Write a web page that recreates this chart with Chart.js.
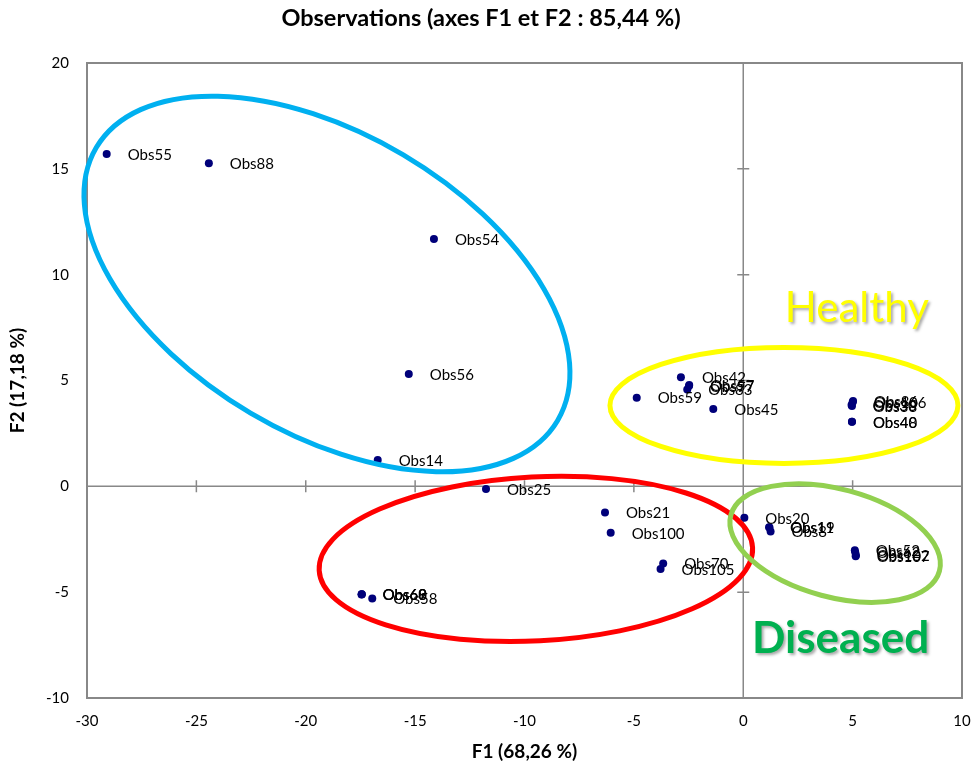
<!DOCTYPE html>
<html>
<head>
<meta charset="utf-8">
<script src="https://cdn.jsdelivr.net/npm/chart.js@4.4.1/dist/chart.umd.min.js"></script>
<style>
  html, body { margin: 0; padding: 0; background: #fff; }
  canvas { display: block; }
</style>
</head>
<body>
<canvas id="c" width="977" height="765"></canvas>
<script>
// ---- data ----
const chartTitle = 'Observations (axes F1 et F2 : 85,44 %)';
const xTitle = 'F1 (68,26 %)';
const yTitle = 'F2 (17,18 %)';
const xTickRange = [-30, 10, 5];
const yTickRange = [-10, 20, 5];

const obsLabels = ['Obs55','Obs88','Obs54','Obs56','Obs14','Obs25','Obs21','Obs100','Obs70','Obs105',
  'Obs60','Obs68','Obs69','Obs58','Obs42','Obs57','Obs97','Obs83','Obs59','Obs45',
  'Obs86','Obs106','Obs30','Obs38','Obs40','Obs48','Obs20','Obs11','Obs19','Obs8',
  'Obs52','Obs62','Obs102','Obs107'];
const f1Values = [-29.10,-24.43,-14.14,-15.29,-16.71,-11.76,-6.32,-6.06,-3.66,-3.78,
  -17.44,-17.44,-17.45,-16.96,-2.85,-2.47,-2.48,-2.56,-4.87,-1.37,
  5.02,5.00,4.95,4.97,4.97,4.97,0.05,1.18,1.20,1.25,
  5.10,5.12,5.15,5.14];
const f2Values = [15.70,15.26,11.68,5.31,1.24,-0.13,-1.24,-2.19,-3.64,-3.91,
  -5.10,-5.10,-5.11,-5.30,5.15,4.79,4.74,4.58,4.19,3.65,
  4.03,3.97,3.84,3.80,3.05,3.05,-1.49,-1.93,-1.95,-2.13,
  -3.02,-3.12,-3.25,-3.30];

// group annotations (anchor in data units)
const groupNames = ['Healthy', 'Diseased'];
const groupTextPos = [[1.9, 7.76], [0.4, -7.87]];

// ---- styling ----
const FONT = 'Lato, "Liberation Sans", sans-serif';
const AXIS_COLOR = '#888888';
const ellipses = [
  { cx: -19.03, cy: 9.56, rx: 268, ry: 150, rot: 30.6, color: '#00B0F0' },
  { cx: 1.86, cy: 3.82, rx: 174, ry: 58, rot: 0, color: '#FFFF00' },
  { cx: -9.48, cy: -3.43, rx: 217, ry: 82, rot: -3, color: '#FF0000' },
  { cx: 4.20, cy: -2.68, rx: 108, ry: 54, rot: 15, color: '#92D050' }
];
const groupStyles = [
  { color: '#FFFF00', font: '400 42px ' + FONT },
  { color: '#00B050', font: '700 44px ' + FONT }
];

const points = obsLabels.map((n, i) => ({ x: f1Values[i], y: f2Values[i], name: n }));

const framePlugin = {
  id: 'frame',
  beforeDatasetsDraw(chart) {
    const { ctx, chartArea: a, scales: { x, y } } = chart;
    ctx.save();
    ctx.strokeStyle = AXIS_COLOR;
    ctx.lineWidth = 2;
    ctx.strokeRect(a.left, a.top, a.right - a.left, a.bottom - a.top);
    const x0 = x.getPixelForValue(0), y0 = y.getPixelForValue(0);
    ctx.lineWidth = 1.5;
    ctx.beginPath();
    ctx.moveTo(x0, a.top); ctx.lineTo(x0, a.bottom);
    ctx.moveTo(a.left, y0); ctx.lineTo(a.right, y0);
    x.ticks.forEach(t => {
      const px = x.getPixelForValue(t.value);
      ctx.moveTo(px, y0 - 6); ctx.lineTo(px, y0 + 6);
    });
    y.ticks.forEach(t => {
      const py = y.getPixelForValue(t.value);
      ctx.moveTo(x0 - 6, py); ctx.lineTo(x0 + 6, py);
    });
    ctx.stroke();
    ctx.restore();
  },
  afterDatasetsDraw(chart) {
    const { ctx, scales: { x, y } } = chart;
    const meta = chart.getDatasetMeta(0);
    ctx.save();
    ctx.font = '15px ' + FONT;
    ctx.fillStyle = '#000';
    ctx.textBaseline = 'middle';
    ctx.textAlign = 'left';
    meta.data.forEach((el, i) => {
      ctx.fillText(points[i].name, el.x + 21, el.y + 1);
    });
    ellipses.forEach(e => {
      ctx.beginPath();
      ctx.strokeStyle = e.color;
      ctx.lineWidth = 5;
      ctx.ellipse(x.getPixelForValue(e.cx), y.getPixelForValue(e.cy), e.rx, e.ry, e.rot * Math.PI / 180, 0, Math.PI * 2);
      ctx.stroke();
    });
    groupNames.forEach((g, i) => {
      const st = groupStyles[i];
      ctx.font = st.font;
      ctx.textBaseline = 'alphabetic';
      ctx.shadowColor = 'rgba(0,0,0,0.35)';
      ctx.shadowOffsetX = 2;
      ctx.shadowOffsetY = 2;
      ctx.shadowBlur = 3;
      ctx.fillStyle = st.color;
      ctx.fillText(g, x.getPixelForValue(groupTextPos[i][0]), y.getPixelForValue(groupTextPos[i][1]));
    });
    ctx.restore();
  }
};

new Chart(document.getElementById('c'), {
  type: 'scatter',
  data: {
    datasets: [{
      data: points,
      pointRadius: 4,
      pointHoverRadius: 4,
      pointBackgroundColor: '#00007A',
      pointBorderColor: '#00007A',
      pointBorderWidth: 0
    }]
  },
  options: {
    responsive: false,
    animation: false,
    layout: { padding: { left: 0, right: 15, top: 0, bottom: 0 } },
    plugins: {
      legend: { display: false },
      tooltip: { enabled: false },
      title: {
        display: true, text: chartTitle, color: '#000',
        font: { family: FONT, size: 23.5, weight: 'bold', lineHeight: 1.2 },
        padding: { top: 4, bottom: 30.8 }
      }
    },
    scales: {
      x: {
        type: 'linear', min: xTickRange[0], max: xTickRange[1],
        ticks: { stepSize: xTickRange[2], padding: 14, color: '#000', font: { family: FONT, size: 15 } },
        grid: { display: false, drawTicks: false },
        border: { display: false },
        title: { display: true, text: xTitle, color: '#000', font: { family: FONT, size: 19, weight: 'bold', lineHeight: 1.2 }, padding: { top: 0, bottom: 1.6 } },
        afterFit(s) { s.height = 67; s.paddingLeft = 0; s.paddingRight = 0; }
      },
      y: {
        type: 'linear', min: yTickRange[0], max: yTickRange[1],
        ticks: { stepSize: yTickRange[2], padding: 18, color: '#000', font: { family: FONT, size: 15 } },
        grid: { display: false, drawTicks: false },
        border: { display: false },
        title: { display: true, text: yTitle, color: '#000', font: { family: FONT, size: 19, weight: 'bold', lineHeight: 1.2 }, padding: { top: 6.6, bottom: 0 } },
        afterFit(s) { s.width = 87; s.paddingTop = 0; s.paddingBottom = 0; }
      }
    }
  },
  plugins: [framePlugin]
});
</script>
</body>
</html>
